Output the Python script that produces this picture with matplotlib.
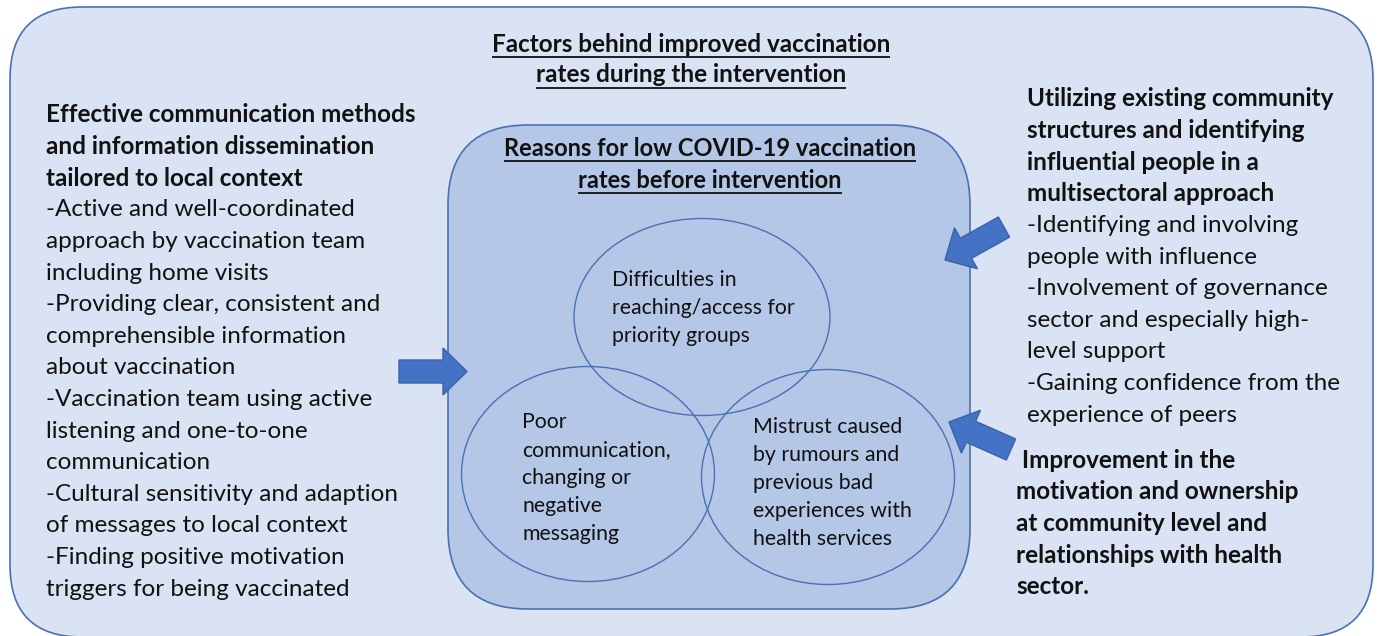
#
# Diagram: factors behind improved COVID-19 vaccination rates
# (outer box) around the reasons for low rates (inner box, 3 circles)
#

import numpy as np
import matplotlib.pyplot as plt
from matplotlib.patches import FancyBboxPatch, Ellipse, Polygon

plt.rcParams['font.family'] = ['Lato', 'DejaVu Sans']

#------ TEXT OF THE DIAGRAM ---------
outer_title = ["Factors behind improved vaccination", "rates during the intervention"]
inner_title = ["Reasons for low COVID-19 vaccination", "rates before intervention"]

left_head = ["Effective communication methods",
             "and information dissemination",
             "tailored to local context"]
left_items = ["-Active and well-coordinated",
              "approach by vaccination team",
              "including home visits",
              "-Providing clear, consistent and",
              "comprehensible information",
              "about vaccination",
              "-Vaccination team using active",
              "listening and one-to-one",
              "communication",
              "-Cultural sensitivity and adaption",
              "of messages to local context",
              "-Finding positive motivation",
              "triggers for being vaccinated"]

right_head = ["Utilizing existing community",
              "structures and identifying",
              "influential people in a",
              "multisectoral approach"]
right_items = ["-Identifying and involving",
               "people with influence",
               "-Involvement of governance",
               "sector and especially high-",
               "level support",
               "-Gaining confidence from the",
               "experience of peers"]
right_bottom = [" Improvement in the",
                "motivation and ownership",
                "at community level and",
                "relationships with health",
                "sector."]

circle_labels = [["Difficulties in", "reaching/access for", "priority groups"],
                 ["Poor", "communication,", "changing or", "negative", "messaging"],
                 ["Mistrust caused", "by rumours and", "previous bad",
                  "experiences with", "health services"]]
#-------------------------------------

# layout (pixel units, y down)
W, H = 1380, 636
circle_xy = [(702, 317), (588, 474), (828, 477)]
circle_wh = [(256, 197), (253, 215), (253, 215)]
label_xy = [(612, 280), (522, 422), (753, 427)]   # left x, first-line y
arrows = [((399, 371.5), (467, 371.5)),           # (tail, tip)
          ((1004, 227), (945, 260)),
          ((1011, 449.5), (949, 422))]

light_blue = '#DAE3F3'
mid_blue = '#B4C7E7'
line_blue = '#4A70B5'
arrow_blue = '#4472C4'
ink = '#111111'

fig = plt.figure(figsize=(W / 100, H / 100), dpi=100)
ax = fig.add_axes([0, 0, 1, 1])
ax.set_xlim(0, W)
ax.set_ylim(H, 0)
ax.axis('off')

# outer and inner rounded boxes
ax.add_patch(FancyBboxPatch((10, 7), 1363, 630, boxstyle="round,pad=0,rounding_size=72",
                            facecolor=light_blue, edgecolor=line_blue, lw=1.2))
ax.add_patch(FancyBboxPatch((448, 125), 522, 484, boxstyle="round,pad=0,rounding_size=80",
                            facecolor=mid_blue, edgecolor=line_blue, lw=1.2))

# three overlapping circles
for (cx, cy), (w, h) in zip(circle_xy, circle_wh):
    ax.add_patch(Ellipse((cx, cy), w, h, facecolor='none', edgecolor=line_blue, lw=1.0))


def block_arrow(tail, tip, body_w=23, head_w=47, head_len=24):
    tail = np.array(tail, float)
    tip = np.array(tip, float)
    u = (tip - tail) / np.hypot(*(tip - tail))
    n = np.array([-u[1], u[0]])
    neck = tip - u * head_len
    pts = [tail + n * body_w / 2, neck + n * body_w / 2, neck + n * head_w / 2, tip,
           neck - n * head_w / 2, neck - n * body_w / 2, tail - n * body_w / 2]
    return Polygon(pts, closed=True, facecolor=arrow_blue, edgecolor='#3A62AA', lw=1)


for tail, tip in arrows:
    ax.add_patch(block_arrow(tail, tip))


def put_lines(lines, x, y0, step, size, weight='normal', ha='left'):
    out = []
    for i, s in enumerate(lines):
        out.append(ax.text(x, y0 + i * step, s, fontsize=size, fontweight=weight,
                           color=ink, ha=ha, va='center'))
    return out


# titles (bold + underline)
titles = put_lines(outer_title, 691, 44, 31, 17.5, 'bold', 'center')
titles += put_lines(inner_title, 710, 148, 32, 17, 'bold', 'center')

# side columns
put_lines(left_head, 46, 115, 31.6, 17.5, 'bold')
put_lines(left_items, 46, 115 + 3 * 31.6, 31.6, 17.5)
put_lines(right_head, 1027, 99, 31.6, 17.5, 'bold')
put_lines(right_items, 1027, 99 + 4 * 31.6, 31.6, 17.5)
put_lines(right_bottom, 1016, 460, 31.7, 17.5, 'bold')

# circle labels
for lines, (x, y) in zip(circle_labels, label_xy):
    put_lines(lines, x, y, 28, 15.3)

# underline the titles
fig.canvas.draw()
r = fig.canvas.get_renderer()
inv = ax.transData.inverted()
for t in titles:
    bb = t.get_window_extent(r)
    x0, _ = inv.transform((bb.x0, bb.y0))
    x1, _ = inv.transform((bb.x1, bb.y0))
    y = t.get_position()[1] + 13
    ax.plot([x0, x1], [y, y], color=ink, lw=1.3, solid_capstyle='butt')

fig.savefig('out.png', dpi=100, facecolor='white')
